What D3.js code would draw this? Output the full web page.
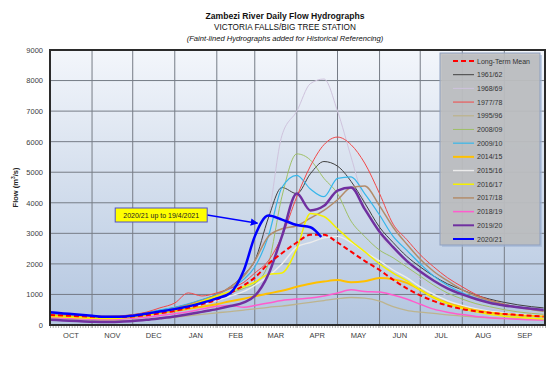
<!DOCTYPE html>
<html>
<head>
<meta charset="utf-8">
<script src="https://cdn.jsdelivr.net/npm/d3@7"></script>
<style>
  body { margin: 0; background: #fff; }
  svg text { font-family: "Liberation Sans", Arial, sans-serif; }
</style>
</head>
<body>
<svg id="chart"></svg>
<script>
// sample dates (1st, 11th, 21st of each month) for the 2020/21 hydrological year
const dekadDates = [
  "2020-10-01","2020-10-11","2020-10-21","2020-11-01","2020-11-11","2020-11-21",
  "2020-12-01","2020-12-11","2020-12-21","2021-01-01","2021-01-11","2021-01-21",
  "2021-02-01","2021-02-11","2021-02-21","2021-03-01","2021-03-11","2021-03-21",
  "2021-04-01","2021-04-11","2021-04-21","2021-05-01","2021-05-11","2021-05-21",
  "2021-06-01","2021-06-11","2021-06-21","2021-07-01","2021-07-11","2021-07-21",
  "2021-08-01","2021-08-11","2021-08-21","2021-09-01","2021-09-11","2021-09-21",
  "2021-09-30"
];
// current season only runs up to 19/4/2021
const currentDates = dekadDates.slice(0, 20).concat(["2021-04-19"]);

const monthLabels = ["OCT","NOV","DEC","JAN","FEB","MAR","APR","MAY","JUN","JUL","AUG","SEP"];
const flowTicks = [0,1000,2000,3000,4000,5000,6000,7000,8000,9000];

const seasonNames = ["Long-Term Mean","1961/62","1968/69","1977/78","1995/96","2008/09","2009/10",
  "2014/15","2015/16","2016/17","2017/18","2018/19","2019/20","2020/21"];

// flows in m3/s
const meanFlow = [330,310,290,270,260,260,280,320,380,460,560,680,830,1050,1300,1550,2000,2350,
  2700,2950,2950,2700,2400,2100,1800,1480,1200,970,780,640,520,450,400,360,330,300,280];
const flow1961 = [350,320,290,270,260,280,330,400,480,570,680,820,1000,1250,1650,2100,3500,4500,
  4300,4950,5350,5200,4700,4000,3200,2700,2250,1900,1600,1350,1150,980,850,740,660,600,560];
const flow1968 = [350,320,290,270,260,270,300,350,420,500,600,720,880,1100,1500,2000,3500,6200,
  7000,7900,8050,7000,5500,4000,3000,2400,1900,1500,1200,950,780,650,560,490,440,400,370];
const flow1977 = [400,360,330,300,290,300,340,420,560,720,1050,950,1050,1200,1400,1700,2100,2900,
  4200,5200,5900,6150,5900,5300,4300,3300,2800,2300,1900,1550,1250,1000,820,680,580,510,470];
const flow1995 = [220,200,180,160,150,150,160,180,210,250,300,350,400,440,490,530,580,620,
  680,740,800,860,900,880,780,600,480,420,380,330,290,260,240,220,200,180,170];
const flow2008 = [330,300,280,260,250,270,310,370,450,540,640,760,900,1050,1200,1350,2000,4200,
  5600,5400,4800,4300,3400,2900,2450,2200,1900,1600,1300,1050,850,700,600,500,430,380,350];
const flow2009 = [370,340,310,290,280,290,330,400,490,580,690,830,1000,1200,1500,1900,2900,4500,
  4900,4450,4200,4800,4850,4300,3600,2900,2450,2000,1600,1300,1050,880,760,650,580,530,490];
const flow2014 = [320,290,270,250,240,250,280,330,390,460,530,600,680,780,860,940,1030,1120,
  1250,1350,1420,1470,1400,1430,1540,1500,1380,1150,900,720,580,480,410,360,320,300,280];
const flow2015 = [300,280,260,240,230,240,270,320,390,470,560,670,800,950,1100,1300,1600,2000,
  2550,2700,2850,2900,2700,2400,2100,1800,1550,1250,1000,800,640,530,450,390,350,320,300];
const flow2016 = [280,260,240,220,210,220,260,320,400,500,620,780,950,1100,1250,1400,1650,1700,
  2500,3650,3550,3150,2750,2400,2000,1700,1450,1150,900,700,540,430,350,290,250,220,200];
const flow2017 = [300,280,260,240,240,260,300,360,440,540,660,800,980,1250,1600,2100,2900,3150,
  3250,3500,3750,4100,4500,4550,3900,3200,2650,2150,1750,1450,1150,950,800,670,580,510,450];
const flow2018 = [250,230,210,190,180,190,220,260,310,370,430,520,610,640,580,640,720,800,
  850,880,950,1050,1150,1100,1080,980,850,680,520,420,340,280,240,210,190,170,160];
const flow2019 = [170,150,130,110,100,110,130,170,220,280,350,430,520,620,740,950,1650,2900,
  4300,3750,3900,4400,4500,3800,3050,2550,2100,1750,1450,1200,1000,850,730,640,580,530,490];
const flow2020 = [420,380,340,300,270,270,300,370,440,520,610,720,870,1050,1800,2900,3580,3450,
  3270,3200,2880];

const seasonFlows = [meanFlow, flow1961, flow1968, flow1977, flow1995, flow2008, flow2009,
  flow2014, flow2015, flow2016, flow2017, flow2018, flow2019, flow2020];

const annotText = "2020/21 up to 19/4/2021";
const annotBox = {date: "2020-12-22", flow: 3600};
const annotTip = {date: "2021-03-03", flow: 3330};

// line styles per season
const styles = {
  "Long-Term Mean": {color: "#ff0000", width: 2, dash: "5,3"},
  "1961/62": {color: "#404040", width: 1},
  "1968/69": {color: "#cfc3dd", width: 1},
  "1977/78": {color: "#f24848", width: 1},
  "1995/96": {color: "#bdb48e", width: 1.3},
  "2008/09": {color: "#9fc066", width: 1},
  "2009/10": {color: "#35b6ea", width: 1.2},
  "2014/15": {color: "#ffc000", width: 2},
  "2015/16": {color: "#ececec", width: 1.4},
  "2016/17": {color: "#f5f000", width: 1.5},
  "2017/18": {color: "#b38c6a", width: 1.5},
  "2018/19": {color: "#ff5ccd", width: 1.5},
  "2019/20": {color: "#7030a0", width: 2.5},
  "2020/21": {color: "#0000ff", width: 2.5}
};
const drawOrder = ["1968/69","1995/96","2015/16","1961/62","2008/09","2009/10","1977/78",
  "2017/18","2018/19","2014/15","2016/17","2019/20","Long-Term Mean","2020/21"];

const parse = d3.timeParse("%Y-%m-%d");
const width = 550, height = 375;
const plot = {left: 50, right: 545, top: 50, bottom: 325};

const svg = d3.select("#chart").attr("width", width).attr("height", height);

const x = d3.scaleTime()
  .domain([parse("2020-10-01"), parse("2021-10-01")])
  .range([plot.left, plot.right]);
const y = d3.scaleLinear()
  .domain([0, 9000])
  .range([plot.bottom, plot.top]);

// background gradient
const defs = svg.append("defs");
const grad = defs.append("linearGradient").attr("id", "bg")
  .attr("x1", 0).attr("y1", 0).attr("x2", 0).attr("y2", 1);
grad.append("stop").attr("offset", "0%").attr("stop-color", "#f3f6fb");
grad.append("stop").attr("offset", "45%").attr("stop-color", "#d6e0ee");
grad.append("stop").attr("offset", "100%").attr("stop-color", "#b3c6e0");
defs.append("clipPath").attr("id", "clip").append("rect")
  .attr("x", plot.left).attr("y", plot.top)
  .attr("width", plot.right - plot.left).attr("height", plot.bottom - plot.top);

svg.append("rect")
  .attr("x", plot.left).attr("y", plot.top)
  .attr("width", plot.right - plot.left).attr("height", plot.bottom - plot.top)
  .attr("fill", "url(#bg)");

// grid lines
svg.append("g")
  .selectAll("line.h")
  .data(flowTicks.slice(1, -1))
  .join("line")
  .attr("x1", plot.left).attr("x2", plot.right)
  .attr("y1", d => y(d)).attr("y2", d => y(d))
  .attr("stroke", "#767c86").attr("stroke-width", 1);

const monthStarts = d3.timeMonth.range(parse("2020-10-01"), parse("2021-10-01"));
svg.append("g")
  .selectAll("line.v")
  .data(monthStarts.slice(1))
  .join("line")
  .attr("x1", d => x(d)).attr("x2", d => x(d))
  .attr("y1", plot.top).attr("y2", plot.bottom)
  .attr("stroke", "#767c86").attr("stroke-width", 1);

// hydrographs
const line = d3.line()
  .defined(d => d.flow != null)
  .x(d => x(d.date))
  .y(d => y(d.flow))
  .curve(d3.curveMonotoneX);

const lines = svg.append("g").attr("clip-path", "url(#clip)");
drawOrder.forEach(name => {
  const i = seasonNames.indexOf(name);
  const dates = name === "2020/21" ? currentDates : dekadDates;
  const pts = seasonFlows[i].map((v, k) => ({date: parse(dates[k]), flow: v}));
  const st = styles[name];
  lines.append("path")
    .datum(pts)
    .attr("d", line)
    .attr("fill", "none")
    .attr("stroke", st.color)
    .attr("stroke-width", st.width)
    .attr("stroke-dasharray", st.dash || null)
    .attr("stroke-linejoin", "round");
});

// frame
svg.append("rect")
  .attr("x", plot.left).attr("y", plot.top)
  .attr("width", plot.right - plot.left).attr("height", plot.bottom - plot.top)
  .attr("fill", "none").attr("stroke", "#2b2b2b").attr("stroke-width", 2);

// y axis labels
const yAxis = d3.axisLeft(y).tickValues(flowTicks).tickFormat(d3.format("d"))
  .tickSize(0).tickPadding(7);
const yg = svg.append("g").attr("transform", `translate(${plot.left},0)`).call(yAxis);
yg.select(".domain").remove();
yg.selectAll("text").attr("font-size", "7.5px").attr("fill", "#404040")
  .attr("font-family", "Liberation Sans, Arial, sans-serif");

// small day ticks under the frame
const dayAxis = d3.axisBottom(x).ticks(d3.timeDay.every(2)).tickSize(2).tickFormat("");
const dg = svg.append("g").attr("transform", `translate(0,${plot.bottom + 1})`).call(dayAxis);
dg.select(".domain").remove();
dg.selectAll("line").attr("stroke", "#777").attr("stroke-width", 0.6);

// month labels
svg.append("g")
  .selectAll("text")
  .data(monthStarts)
  .join("text")
  .attr("x", d => (x(d) + x(d3.timeMonth.offset(d, 1))) / 2)
  .attr("y", 338)
  .attr("text-anchor", "middle")
  .attr("font-size", "7.5px")
  .attr("fill", "#404040")
  .text((d, i) => monthLabels[i]);

// axis title
svg.append("text")
  .attr("transform", `translate(18,${(plot.top + plot.bottom) / 2}) rotate(-90)`)
  .attr("text-anchor", "middle")
  .attr("font-size", "7.5px")
  .attr("font-weight", "bold")
  .attr("fill", "#222")
  .html('Flow (m<tspan baseline-shift="super" font-size="5px">3</tspan>/s)');

// titles
svg.append("text").attr("x", 285).attr("y", 19).attr("text-anchor", "middle")
  .attr("font-size", "8.6px").attr("font-weight", "bold").attr("fill", "#111")
  .text("Zambezi River Daily Flow Hydrographs");
svg.append("text").attr("x", 285).attr("y", 30).attr("text-anchor", "middle")
  .attr("font-size", "8.2px").attr("fill", "#111")
  .text("VICTORIA FALLS/BIG TREE STATION");
svg.append("text").attr("x", 285).attr("y", 41).attr("text-anchor", "middle")
  .attr("font-size", "7.6px").attr("font-style", "italic").attr("fill", "#111")
  .text("(Faint-lined Hydrographs added for Historical Referencing)");

// legend
const legend = svg.append("g");
legend.append("rect")
  .attr("x", 442).attr("y", 55).attr("width", 100).attr("height", 192)
  .attr("fill", "#9fb4d6").attr("opacity", 0.6);
legend.append("rect")
  .attr("x", 440).attr("y", 53).attr("width", 100).attr("height", 192)
  .attr("fill", "#bdbdbd").attr("fill-opacity", 0.88)
  .attr("stroke", "#8d9fbf").attr("stroke-width", 1);
const rowY = d3.scalePoint().domain(seasonNames).range([61, 239]);
const rows = legend.selectAll("g.row").data(seasonNames).join("g")
  .attr("transform", d => `translate(0,${rowY(d)})`);
rows.append("line")
  .attr("x1", 453).attr("x2", 474)
  .attr("stroke", d => styles[d].color)
  .attr("stroke-width", d => Math.min(styles[d].width, 2))
  .attr("stroke-dasharray", d => styles[d].dash || null);
rows.append("text")
  .attr("x", 477).attr("y", 2.5)
  .attr("font-size", "7px")
  .attr("fill", "#333")
  .text(d => d);

// annotation for current season
const bx = x(parse(annotBox.date)), by = y(annotBox.flow);
const tx = x(parse(annotTip.date)), ty = y(annotTip.flow);
defs.append("marker").attr("id", "arrow")
  .attr("viewBox", "0 0 10 10").attr("refX", 9).attr("refY", 5)
  .attr("markerWidth", 5).attr("markerHeight", 5).attr("orient", "auto")
  .append("path").attr("d", "M0,0L10,5L0,10z").attr("fill", "#0000ff");
svg.append("line")
  .attr("x1", bx + 46).attr("y1", by).attr("x2", tx).attr("y2", ty)
  .attr("stroke", "#0000ff").attr("stroke-width", 1.5)
  .attr("marker-end", "url(#arrow)");
svg.append("rect")
  .attr("x", bx - 46).attr("y", by - 7).attr("width", 92).attr("height", 14)
  .attr("fill", "#ffff00").attr("stroke", "#5050c8").attr("stroke-width", 1);
svg.append("text")
  .attr("x", bx).attr("y", by + 2.5).attr("text-anchor", "middle")
  .attr("font-size", "7px").attr("fill", "#222")
  .text(annotText);
</script>
</body>
</html>
